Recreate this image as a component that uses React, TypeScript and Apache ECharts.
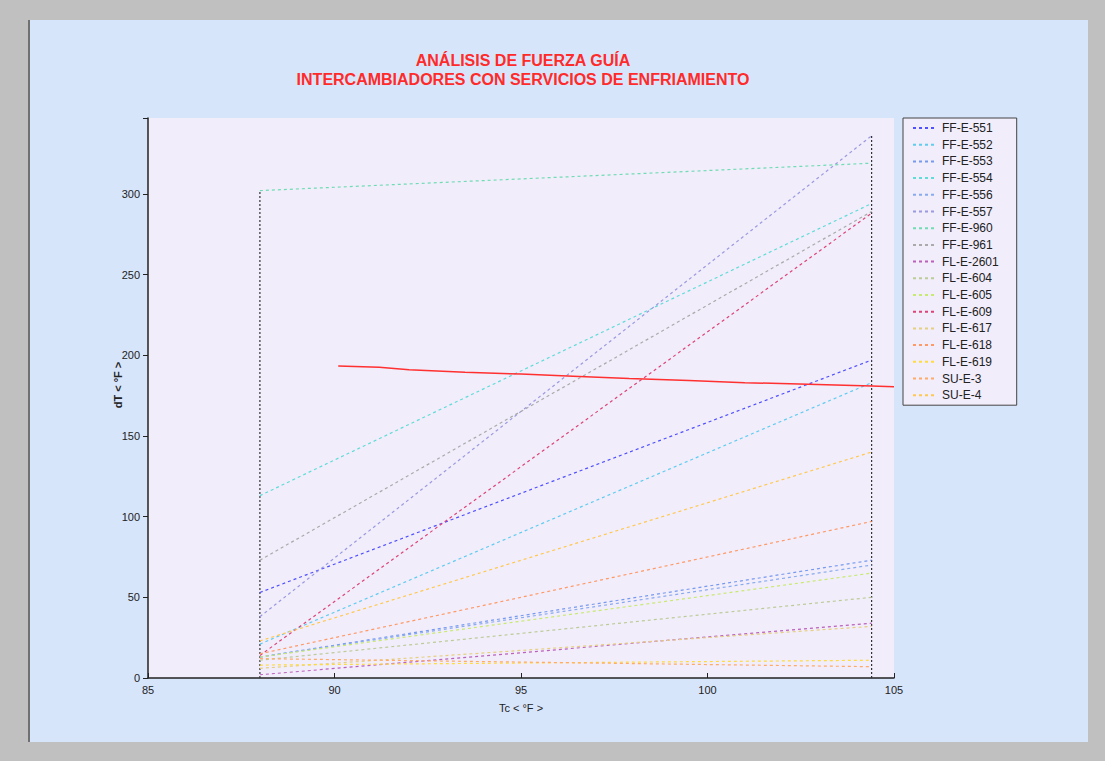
import React, { useEffect, useRef } from "react";
import * as echarts from "echarts";

// Tc (°F) at which each exchanger's dT was evaluated
const tcPoints = [88, 104.4];

const exchangerNames = [
  "FF-E-551", "FF-E-552", "FF-E-553", "FF-E-554", "FF-E-556", "FF-E-557",
  "FF-E-960", "FF-E-961", "FL-E-2601", "FL-E-604", "FL-E-605", "FL-E-609",
  "FL-E-617", "FL-E-618", "FL-E-619", "SU-E-3", "SU-E-4",
];

// dT (°F) at Tc = 88
const dtAtStart = [53, 21, 13, 113, 13, 38, 302, 73, 2, 11, 13, 14, 6, 15, 8, 12, 23];
// dT (°F) at Tc = 104.4
const dtAtEnd = [197, 183, 73, 294, 70, 336, 319, 289, 34, 50, 65, 288, 32, 97, 11, 7, 140];

const lineColors = [
  "#5050ff", "#60ccf0", "#7799ee", "#60dcd8", "#88aaee", "#9a9ae0",
  "#70dcb4", "#aaaaaa", "#bb60bb", "#bccc98", "#c8ea70", "#dd4477",
  "#e6cf80", "#ff9966", "#ffdc40", "#ffaa66", "#ffc850",
];

// Driving-force limit line (solid red)
const limitTc = [90.1, 91.2, 92, 93.5, 95, 96.4, 97.9, 99.5, 101, 102.7, 104.4, 105];
const limitDt = [193.4, 192.5, 191, 189.5, 188.3, 187, 185.6, 184.3, 183, 182, 181, 180.5];

// Vertical boundaries of the operating range
const boundTc = [88, 104.4];
const boundTop = [302, 337];

export default function App() {
  const ref = useRef<HTMLDivElement>(null);

  useEffect(() => {
    if (!ref.current) return;
    const chart = echarts.init(ref.current, undefined, { renderer: "svg" });
    const font = "'Liberation Sans', Arial, sans-serif";

    const series: any[] = exchangerNames.map((name, i) => ({
      name,
      type: "line",
      symbol: "none",
      data: tcPoints.map((t, k) => [t, k === 0 ? dtAtStart[i] : dtAtEnd[i]]),
      lineStyle: { color: lineColors[i], width: 1.2, type: [3, 3] },
      itemStyle: { color: lineColors[i] },
      z: 3,
    }));

    series.push({
      name: "limit",
      type: "line",
      symbol: "none",
      data: limitTc.map((t, k) => [t, limitDt[k]]),
      lineStyle: { color: "#ff3030", width: 1.5, type: "solid" },
      z: 4,
    });
    boundTc.forEach((t, k) => {
      series.push({
        name: "bound" + k,
        type: "line",
        symbol: "none",
        data: [[t, 0], [t, boundTop[k]]],
        lineStyle: { color: "#333333", width: 1.2, type: [2, 2] },
        z: 2,
      });
    });

    chart.setOption({
      animation: false,
      backgroundColor: "#c0c0c0",
      graphic: [
        { type: "rect", shape: { x: 30, y: 20, width: 1058, height: 722 }, style: { fill: "#d7e5fb" }, z: -10 },
        { type: "rect", shape: { x: 28, y: 20, width: 2, height: 722 }, style: { fill: "#707070" }, z: -10 },
        {
          type: "text",
          x: 118,
          y: 385,
          rotation: Math.PI / 2,
          style: {
            text: "dT < °F >",
            fill: "#222",
            font: "bold 11px 'Liberation Sans', Arial, sans-serif",
            align: "center",
            verticalAlign: "middle",
          },
        },
      ],
      title: {
        text: "ANÁLISIS DE FUERZA GUÍA\nINTERCAMBIADORES CON SERVICIOS DE ENFRIAMIENTO",
        left: 518,
        top: 46,
        textAlign: "center",
        textStyle: { color: "#ff2a2a", fontSize: 16, fontWeight: "bold", fontFamily: font, lineHeight: 19 },
      },
      legend: {
        data: exchangerNames,
        orient: "vertical",
        left: 903,
        top: 118,
        padding: [4, 18, 4, 9],
        itemWidth: 24,
        itemHeight: 12,
        itemGap: 4.7,
        itemStyle: { opacity: 0 },
        backgroundColor: "#f1edfb",
        borderColor: "#444444",
        borderWidth: 1,
        borderRadius: 0,
        textStyle: { fontSize: 12, color: "#222", fontFamily: font, lineHeight: 12 },
      },
      grid: {
        left: 148,
        top: 118,
        width: 746,
        height: 560,
        show: true,
        backgroundColor: "#f1edfb",
        borderWidth: 0,
      },
      xAxis: {
        type: "value",
        min: 85,
        max: 105,
        interval: 5,
        name: "Tc < °F >",
        nameLocation: "middle",
        nameGap: 24,
        nameTextStyle: { fontSize: 11, color: "#222", fontFamily: font },
        axisLine: { lineStyle: { color: "#222", width: 1.5 } },
        axisTick: { inside: true, length: 5, lineStyle: { color: "#222" } },
        axisLabel: { fontSize: 11, color: "#222", fontFamily: font, margin: 6 },
        splitLine: { show: false },
      },
      yAxis: {
        type: "value",
        min: 0,
        max: 347,
        interval: 50,
        axisLine: { show: true, lineStyle: { color: "#222", width: 1.5 } },
        axisTick: { show: true, length: 5, lineStyle: { color: "#222" } },
        axisLabel: {
          fontSize: 11,
          color: "#222",
          fontFamily: font,
          margin: 8,
          formatter: (v: number) => (v % 50 === 0 ? String(v) : ""),
        },
        splitLine: { show: false },
      },
      series,
    });

    return () => chart.dispose();
  }, []);

  return (
    <div
      ref={ref}
      style={{ position: "fixed", left: 0, top: 0, width: 1105, height: 761 }}
    />
  );
}
